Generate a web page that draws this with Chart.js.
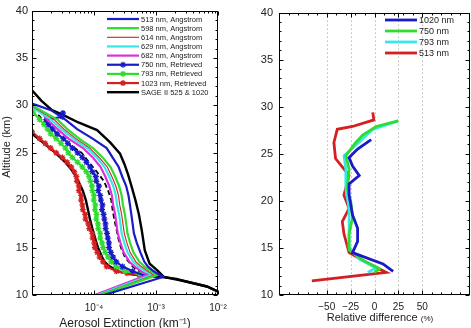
<!DOCTYPE html>
<html>
<head>
<meta charset="utf-8">
<script src="https://cdn.jsdelivr.net/npm/chart.js@4/dist/chart.umd.min.js"></script>
<style>
  html, body { margin: 0; padding: 0; background: #fff; }
  #wrap { position: relative; width: 471px; height: 328px; overflow: hidden; }
  #left { position: absolute; left: 0; top: 0; }
  #right { position: absolute; left: 240px; top: 0; }
</style>
</head>
<body>
<div id="wrap">
  <canvas id="left" width="240" height="328"></canvas>
  <canvas id="right" width="231" height="328"></canvas>
</div>
<script>
// ---- Left panel: extinction profiles (km^-1) vs altitude (km) ----
const angAlt513 = [30.2, 29.5, 28.5, 27.5, 26.5, 25.5, 24.5, 23.5, 22.5, 21.5, 20.5, 19.5, 18.5, 17.5, 16.5, 15.5, 14.5, 13.5, 13.0, 12.5, 11.9, 10.0];
const ang513 = [1.0e-5, 2.02e-5, 3.45e-5, 5.35e-5, 9.5e-5, 1.6e-4, 2.0e-4, 2.5e-4, 2.85e-4, 3.3e-4, 3.6e-4, 3.8e-4, 4.0e-4, 4.2e-4, 4.4e-4, 4.9e-4, 5.6e-4, 6.5e-4, 7.4e-4, 9.2e-4, 1.30e-3, 1.45e-4];

const angAlt598 = [30.0, 28.5, 27.5, 26.5, 25.5, 24.5, 23.5, 22.5, 21.5, 20.5, 19.5, 18.5, 17.5, 16.5, 15.5, 14.5, 13.5, 13.0, 12.5, 12.1, 10.0];
const ang598 = [1.0e-5, 2.58e-5, 3.71e-5, 5.76e-5, 9.59e-5, 1.38e-4, 1.85e-4, 2.19e-4, 2.54e-4, 2.79e-4, 2.93e-4, 3.15e-4, 3.31e-4, 3.47e-4, 3.82e-4, 4.32e-4, 5.39e-4, 6.56e-4, 8.37e-4, 1.04e-3, 1.25e-4];

const angAlt614 = [29.9, 28.5, 27.5, 26.5, 25.5, 24.5, 23.5, 22.5, 21.5, 20.5, 19.5, 18.5, 17.5, 16.5, 15.5, 14.5, 13.5, 13.0, 12.5, 12.1, 10.0];
const ang614 = [1.0e-5, 2.28e-5, 3.28e-5, 5.10e-5, 8.53e-5, 1.22e-4, 1.64e-4, 1.94e-4, 2.25e-4, 2.48e-4, 2.60e-4, 2.79e-4, 2.93e-4, 3.08e-4, 3.39e-4, 3.82e-4, 4.75e-4, 5.80e-4, 7.40e-4, 9.25e-4, 1.19e-4];

const angAlt629 = [29.8, 28.5, 27.5, 26.5, 25.5, 24.5, 23.5, 22.5, 21.5, 20.5, 19.5, 18.5, 17.5, 16.5, 15.5, 14.5, 13.5, 13.0, 12.5, 12.1, 10.0];
const ang629 = [1.0e-5, 2.02e-5, 2.98e-5, 4.62e-5, 7.71e-5, 1.11e-4, 1.48e-4, 1.76e-4, 2.04e-4, 2.25e-4, 2.36e-4, 2.54e-4, 2.67e-4, 2.79e-4, 3.08e-4, 3.47e-4, 4.32e-4, 5.26e-4, 6.71e-4, 8.37e-4, 1.14e-4];

const angAlt682 = [29.6, 28.5, 27.5, 26.5, 25.5, 24.5, 23.5, 22.5, 21.5, 20.5, 19.5, 18.5, 17.5, 16.5, 15.5, 14.5, 13.5, 13.0, 12.5, 12.1, 10.0];
const ang682 = [1.33e-5, 1.74e-5, 2.58e-5, 3.89e-5, 6.66e-5, 9.59e-5, 1.28e-4, 1.52e-4, 1.76e-4, 1.94e-4, 2.04e-4, 2.19e-4, 2.30e-4, 2.42e-4, 2.67e-4, 3.0e-4, 3.74e-4, 4.54e-4, 5.80e-4, 7.21e-4, 1.03e-4];

const retAlt750 = [29.2, 28.8, 28.5, 28.0, 27.5, 27.0, 26.5, 26.0, 25.5, 25.0, 24.5, 24.0, 23.5, 23.0, 22.5, 22.0, 21.5, 21.0, 20.5, 20.0, 19.5, 19.0, 18.5, 18.0, 17.5, 17.0, 16.5, 16.0, 15.5, 15.0, 14.5, 14.0, 13.5, 13.0, 12.5, 12.0];
const ret750 = [3.15e-5, 3.08e-5, 1.70e-5, 1.85e-5, 2.16e-5, 2.54e-5, 3.23e-5, 3.78e-5, 4.49e-5, 5.44e-5, 6.49e-5, 7.54e-5, 8.68e-5, 9.42e-5, 1.07e-4, 1.09e-4, 1.20e-4, 1.17e-4, 1.26e-4, 1.29e-4, 1.37e-4, 1.35e-4, 1.43e-4, 1.47e-4, 1.53e-4, 1.54e-4, 1.62e-4, 1.67e-4, 1.74e-4, 1.75e-4, 1.87e-4, 2.03e-4, 2.29e-4, 2.89e-4, 4.21e-4, 6.84e-4];

const retAlt793 = [29.3, 28.5, 28.0, 27.5, 27.0, 26.5, 26.0, 25.5, 25.0, 24.5, 24.0, 23.5, 23.0, 22.5, 22.0, 21.5, 21.0, 20.5, 20.0, 19.5, 19.0, 18.5, 18.0, 17.5, 17.0, 16.5, 16.0, 15.5, 15.0, 14.5, 14.0, 13.5, 13.0, 12.5, 12.2];
const ret793 = [1.04e-5, 1.33e-5, 1.56e-5, 1.78e-5, 2.0e-5, 2.46e-5, 2.92e-5, 3.46e-5, 3.85e-5, 4.49e-5, 5.44e-5, 6.49e-5, 7.54e-5, 8.35e-5, 8.76e-5, 9.26e-5, 9.42e-5, 9.99e-5, 9.91e-5, 1.05e-4, 1.04e-4, 1.10e-4, 1.09e-4, 1.16e-4, 1.17e-4, 1.26e-4, 1.26e-4, 1.35e-4, 1.40e-4, 1.52e-4, 1.69e-4, 1.90e-4, 2.29e-4, 3.15e-4, 5.55e-4];

const retAlt1023 = [27.2, 26.5, 26.0, 25.5, 25.0, 24.5, 24.0, 23.5, 23.0, 22.5, 22.0, 21.5, 21.0, 20.5, 20.0, 19.5, 19.0, 18.5, 18.0, 17.5, 17.0, 16.5, 16.0, 15.5, 15.0, 14.5, 14.0, 13.5, 13.0, 12.5, 12.3, 12.1];
const ret1023 = [1.0e-5, 1.33e-5, 1.63e-5, 2.0e-5, 2.46e-5, 3.1e-5, 3.7e-5, 4.3e-5, 4.8e-5, 5.2e-5, 5.3e-5, 5.7e-5, 5.7e-5, 6.2e-5, 6.2e-5, 6.5e-5, 6.6e-5, 7.2e-5, 7.3e-5, 8.1e-5, 8.4e-5, 9.4e-5, 9.5e-5, 1.01e-4, 1.03e-4, 1.13e-4, 1.23e-4, 1.4e-4, 1.6e-4, 2.3e-4, 3.4e-4, 5.38e-4];

const sageAlt525 = [31.6, 30.5, 29.5, 29.0, 28.2, 27.4, 26.1, 24.9, 23.8, 22.7, 21.3, 19.9, 18.5, 16.8, 14.7, 13.3, 12.6, 11.9, 11.4, 10.9, 10.3];
const sage525 = [1.0e-5, 1.41e-5, 2.1e-5, 3.16e-5, 5.6e-5, 1.12e-4, 1.82e-4, 2.63e-4, 3.1e-4, 3.55e-4, 4.1e-4, 4.7e-4, 5.3e-4, 5.9e-4, 6.6e-4, 7.9e-4, 1.05e-3, 1.35e-3, 3.16e-3, 6.6e-3, 1.05e-2];

const sageAlt1020 = [27.0, 26.0, 25.0, 24.0, 23.0, 22.0, 21.0, 20.0, 19.0, 18.0, 17.0, 16.0, 15.0, 14.0, 13.5, 13.0, 12.5, 12.2, 12.0, 11.9, 11.7, 11.4, 10.9, 10.3];
const sage1020 = [1.0e-5, 1.56e-5, 2.39e-5, 3.46e-5, 4.6e-5, 5.6e-5, 6.6e-5, 7.4e-5, 8.0e-5, 8.6e-5, 9.4e-5, 1.04e-4, 1.16e-4, 1.35e-4, 1.48e-4, 1.8e-4, 2.46e-4, 3.76e-4, 6.84e-4, 1.25e-3, 2.13e-3, 3.2e-3, 6.65e-3, 1.05e-2];

const dashAlt = [29.0, 28.0, 27.0, 26.0, 25.0, 24.0, 23.0, 22.0, 21.0, 20.0, 19.0, 18.0, 17.0, 16.0, 15.0, 14.0, 13.0, 12.5, 12.1];
const dashExt = [1.26e-5, 1.78e-5, 2.54e-5, 3.70e-5, 6.33e-5, 8.27e-5, 1.11e-4, 1.45e-4, 1.69e-4, 1.90e-4, 1.99e-4, 2.12e-4, 2.29e-4, 2.46e-4, 2.72e-4, 3.15e-4, 4.21e-4, 5.38e-4, 7.76e-4];

const leftLabels = ['513 nm, Angstrom', '598 nm, Angstrom', '614 nm, Angstrom', '629 nm, Angstrom', '682 nm, Angstrom',
                    '750 nm, Retrieved', '793 nm, Retrieved', '1023 nm, Retrieved', 'SAGE II 525 & 1020'];
const extTicks = [1e-4, 1e-3, 1e-2];
const extTickLabels = ['10\u207B\u2074', '10\u207B\u00B3', '10\u207B\u00B2'];
const altTicks = [10, 15, 20, 25, 30, 35, 40];

// ---- Right panel: relative difference (%) vs altitude (km) ----
const diffAlt1020 = [26.5, 25.5, 24.6, 23.7, 22.7, 21.8, 20.6, 18.5, 17.1, 15.7, 14.5, 13.3, 12.5];
const diff1020 = [-3.5, -17.7, -26.6, -23, -16, -26.6, -26.6, -23, -17.7, -17.7, -23, 8.9, 19.5];
const diffAlt750 = [28.5, 27.9, 27.0, 26.2, 24.8, 23.4, 21.3, 19.9, 18.2, 16.5, 14.8, 13.7, 12.8, 12.4];
const diff750 = [24.8, 1.8, -12.4, -19.5, -30, -26.6, -28.4, -24.8, -23, -26.6, -26.6, -12.4, 5.3, 0];
const diffAlt793 = [28.5, 27.6, 25.9, 24.8, 23.4, 21.3, 19.2, 17.1, 15.1, 13.8, 12.9, 12.4];
const diff793 = [24.8, -1.8, -19.5, -32, -30, -30, -26.6, -26.6, -26.6, -16, 1.8, -7];
const diffAlt513 = [29.4, 28.6, 27.9, 27.6, 26.2, 24.5, 22.7, 20.6, 19.2, 17.8, 16.5, 14.5, 13.3, 12.4, 11.5];
const diff513 = [-1.8, -0.7, -23, -39, -42.5, -40.8, -26.6, -32, -26.6, -33.7, -32, -26.6, -5.3, 12.4, -65.6];
const rightLabels = ['1020 nm', '750 nm', '793 nm', '513 nm'];
const diffTicks = [-50, -25, 0, 25, 50];
const diffTickLabels = ['\u221250', '\u221225', '0', '25', '50'];

const BLUE = '#1a1ac8', GREEN = '#30dc30', RED = '#d42020', CYAN = '#38e8e8', MAGENTA = '#dc30dc';
const FONT = '"Liberation Sans", Arial, sans-serif';

const pts = (alts, vals) => vals.map((v, i) => ({ x: v, y: alts[i] }));

function line(label, alts, vals, color, width, extra) {
  return Object.assign({
    label, data: pts(alts, vals), borderColor: color, backgroundColor: color,
    borderWidth: width, showLine: true, pointRadius: 0, tension: 0
  }, extra || {});
}
const star = { pointStyle: 'star', pointRadius: 3, pointBorderWidth: 1.3 };

// km minor ticks on the altitude axes
const altMinor = [];
for (let a = 11; a < 40; a++) if (a % 5) altMinor.push(a);

// frame with inward ticks, like the original plotting tool
function framePlugin(opts) {
  return {
    id: 'frame',
    beforeDatasetsDraw(chart) {
      if (!opts.dotted) return;
      const { ctx, chartArea: a, scales: { x } } = chart;
      ctx.save();
      ctx.strokeStyle = '#999'; ctx.lineWidth = 1; ctx.setLineDash([1, 3]);
      opts.dotted.forEach(v => {
        const px = Math.round(x.getPixelForValue(v)) + 0.5;
        ctx.beginPath(); ctx.moveTo(px, a.top); ctx.lineTo(px, a.bottom); ctx.stroke();
      });
      ctx.restore();
    },
    afterDraw(chart) {
      const { ctx, chartArea: a, scales: { x, y } } = chart;
      ctx.save();
      ctx.strokeStyle = '#000'; ctx.lineWidth = 1;
      const L = Math.round(a.left) + 0.5, R = Math.round(a.right) - 0.5;
      const T = Math.round(a.top) + 0.5, B = Math.round(a.bottom) - 0.5;
      ctx.strokeRect(L, T, R - L, B - T);
      ctx.beginPath();
      const xt = (v, len) => {
        const px = Math.round(x.getPixelForValue(v)) + 0.5;
        ctx.moveTo(px, B); ctx.lineTo(px, B - len);
        ctx.moveTo(px, T); ctx.lineTo(px, T + len);
      };
      const yt = (v, len) => {
        const py = Math.round(y.getPixelForValue(v)) + 0.5;
        ctx.moveTo(L, py); ctx.lineTo(L + len, py);
        ctx.moveTo(R, py); ctx.lineTo(R - len, py);
      };
      opts.xMajor.forEach(v => xt(v, 4));
      (opts.xMinor || []).forEach(v => xt(v, 2));
      altTicks.forEach(v => yt(v, 4));
      altMinor.forEach(v => yt(v, 2));
      ctx.stroke();
      ctx.restore();
    }
  };
}

function legendPlugin(opts) {
  return {
    id: 'boxLegend',
    afterDraw(chart) {
      const ctx = chart.ctx;
      ctx.save();
      ctx.font = opts.font;
      ctx.textBaseline = 'middle';
      opts.items.forEach((idx, i) => {
        const ds = chart.data.datasets[idx];
        const y = opts.y + i * opts.step;
        ctx.strokeStyle = ds.borderColor; ctx.fillStyle = ds.borderColor;
        ctx.lineWidth = ds.borderWidth; ctx.setLineDash([]);
        ctx.beginPath(); ctx.moveTo(opts.x, y); ctx.lineTo(opts.x + opts.len, y); ctx.stroke();
        if (ds.pointStyle === 'star') {
          ctx.lineWidth = 1.3;
          Chart.helpers.drawPoint(ctx, { pointStyle: 'star', radius: 3, borderWidth: 1.3 }, opts.x + opts.len / 2, y);
        }
        ctx.fillStyle = '#222';
        ctx.fillText(ds.label, opts.x + opts.len + 2, y + 0.5);
      });
      ctx.restore();
    }
  };
}

function titlePlugin(draw) {
  return { id: 'titles', afterDraw(chart) { const ctx = chart.ctx; ctx.save(); draw(ctx); ctx.restore(); } };
}

// ---------- left chart ----------
const minorLog = [];
[1e-5, 1e-4, 1e-3].forEach(d => { for (let k = 2; k <= 9; k++) minorLog.push(k * d); });

const leftData = [
  line(leftLabels[0], angAlt513, ang513, BLUE, 2.2),
  line(leftLabels[1], angAlt598, ang598, GREEN, 2.2),
  line(leftLabels[2], angAlt614, ang614, RED, 1.1),
  line(leftLabels[3], angAlt629, ang629, CYAN, 2.2),
  line(leftLabels[4], angAlt682, ang682, MAGENTA, 2.2),
  line(leftLabels[5], retAlt750, ret750, BLUE, 2.2, star),
  line(leftLabels[6], retAlt793, ret793, GREEN, 2.2, star),
  line(leftLabels[7], retAlt1023, ret1023, RED, 2.2, star),
  line(leftLabels[8], sageAlt525, sage525, '#000', 2.4),
  line('', sageAlt1020, sage1020, '#000', 2.4),
  line('', dashAlt, dashExt, '#000', 1.8, { borderDash: [5, 3] })
];

new Chart(document.getElementById('left'), {
  type: 'scatter',
  data: { datasets: leftData },
  options: {
    responsive: false, animation: false,
    layout: { padding: { top: 7, right: 22, left: 0, bottom: 0 } },
    plugins: { legend: { display: false }, tooltip: { enabled: false } },
    scales: {
      x: {
        type: 'logarithmic', min: 1e-5, max: 1e-2,
        afterBuildTicks: s => { s.ticks = extTicks.map(v => ({ value: v })); },
        afterFit: s => { s.height = 33; },
        grid: { display: false, drawTicks: false }, border: { display: false },
        ticks: { padding: 7, autoSkip: false, maxRotation: 0, color: '#222', font: { family: FONT, size: 10 },
                 callback: v => extTickLabels[extTicks.indexOf(v)] ?? '' }
      },
      y: {
        min: 10, max: 40,
        afterBuildTicks: s => { s.ticks = altTicks.map(v => ({ value: v })); },
        afterFit: s => { s.width = 32; },
        grid: { display: false, drawTicks: false }, border: { display: false },
        ticks: { padding: 4, color: '#222', font: { family: FONT, size: 11 } }
      }
    }
  },
  plugins: [
    framePlugin({ xMajor: extTicks, xMinor: minorLog }),
    legendPlugin({ items: [0, 1, 2, 3, 4, 5, 6, 7, 8], x: 107, len: 32, y: 19, step: 9.15, font: '7.5px ' + FONT }),
    titlePlugin(ctx => {
      ctx.fillStyle = '#222';
      ctx.font = '11px ' + FONT;
      ctx.textAlign = 'center'; ctx.textBaseline = 'middle';
      ctx.translate(7, 147); ctx.rotate(-Math.PI / 2);
      ctx.fillText('Altitude (km)', 0, 0);
      ctx.setTransform(1, 0, 0, 1, 0, 0);
      ctx.font = '12px ' + FONT;
      ctx.textBaseline = 'top';
      ctx.fillText('Aerosol Extinction (km\u207B\u00B9)', 125, 318);
    })
  ]
});

// ---------- right chart ----------
const rightData = [
  line(rightLabels[0], diffAlt1020, diff1020, BLUE, 2.8),
  line(rightLabels[1], diffAlt750, diff750, GREEN, 2.8),
  line(rightLabels[2], diffAlt793, diff793, CYAN, 2.8),
  line(rightLabels[3], diffAlt513, diff513, RED, 2.8)
];

new Chart(document.getElementById('right'), {
  type: 'scatter',
  data: { datasets: rightData },
  options: {
    responsive: false, animation: false,
    layout: { padding: { top: 7, right: 1, left: 0, bottom: 0 } },
    plugins: { legend: { display: false }, tooltip: { enabled: false } },
    scales: {
      x: {
        min: -100, max: 100,
        afterBuildTicks: s => { s.ticks = diffTicks.map(v => ({ value: v })); },
        afterFit: s => { s.height = 33; },
        grid: { display: false, drawTicks: false }, border: { display: false },
        ticks: { padding: 6, autoSkip: false, maxRotation: 0, color: '#222', font: { family: FONT, size: 10 },
                 callback: v => diffTickLabels[diffTicks.indexOf(v)] ?? '' }
      },
      y: {
        min: 10, max: 40,
        afterBuildTicks: s => { s.ticks = altTicks.map(v => ({ value: v })); },
        afterFit: s => { s.width = 39; },
        grid: { display: false, drawTicks: false }, border: { display: false },
        ticks: { padding: 6, color: '#222', font: { family: FONT, size: 11 } }
      }
    }
  },
  plugins: [
    framePlugin({ xMajor: diffTicks, xMinor: [-90, -80, -70, -60, -40, -30, -20, -10, 10, 20, 30, 40, 60, 70, 80, 90], dotted: diffTicks }),
    legendPlugin({ items: [0, 1, 2, 3], x: 145, len: 32, y: 20, step: 11, font: '9px ' + FONT }),
    titlePlugin(ctx => {
      ctx.fillStyle = '#222';
      ctx.textBaseline = 'middle'; ctx.textAlign = 'left';
      const main = 'Relative difference ';
      ctx.font = '11px ' + FONT;
      const w1 = ctx.measureText(main).width;
      ctx.font = '8px ' + FONT;
      const w2 = ctx.measureText('(%)').width;
      const x0 = 140 - (w1 + w2) / 2;
      ctx.font = '11px ' + FONT;
      ctx.fillText(main, x0, 318);
      ctx.font = '8px ' + FONT;
      ctx.fillText('(%)', x0 + w1, 319);
    })
  ]
});
</script>
</body>
</html>
